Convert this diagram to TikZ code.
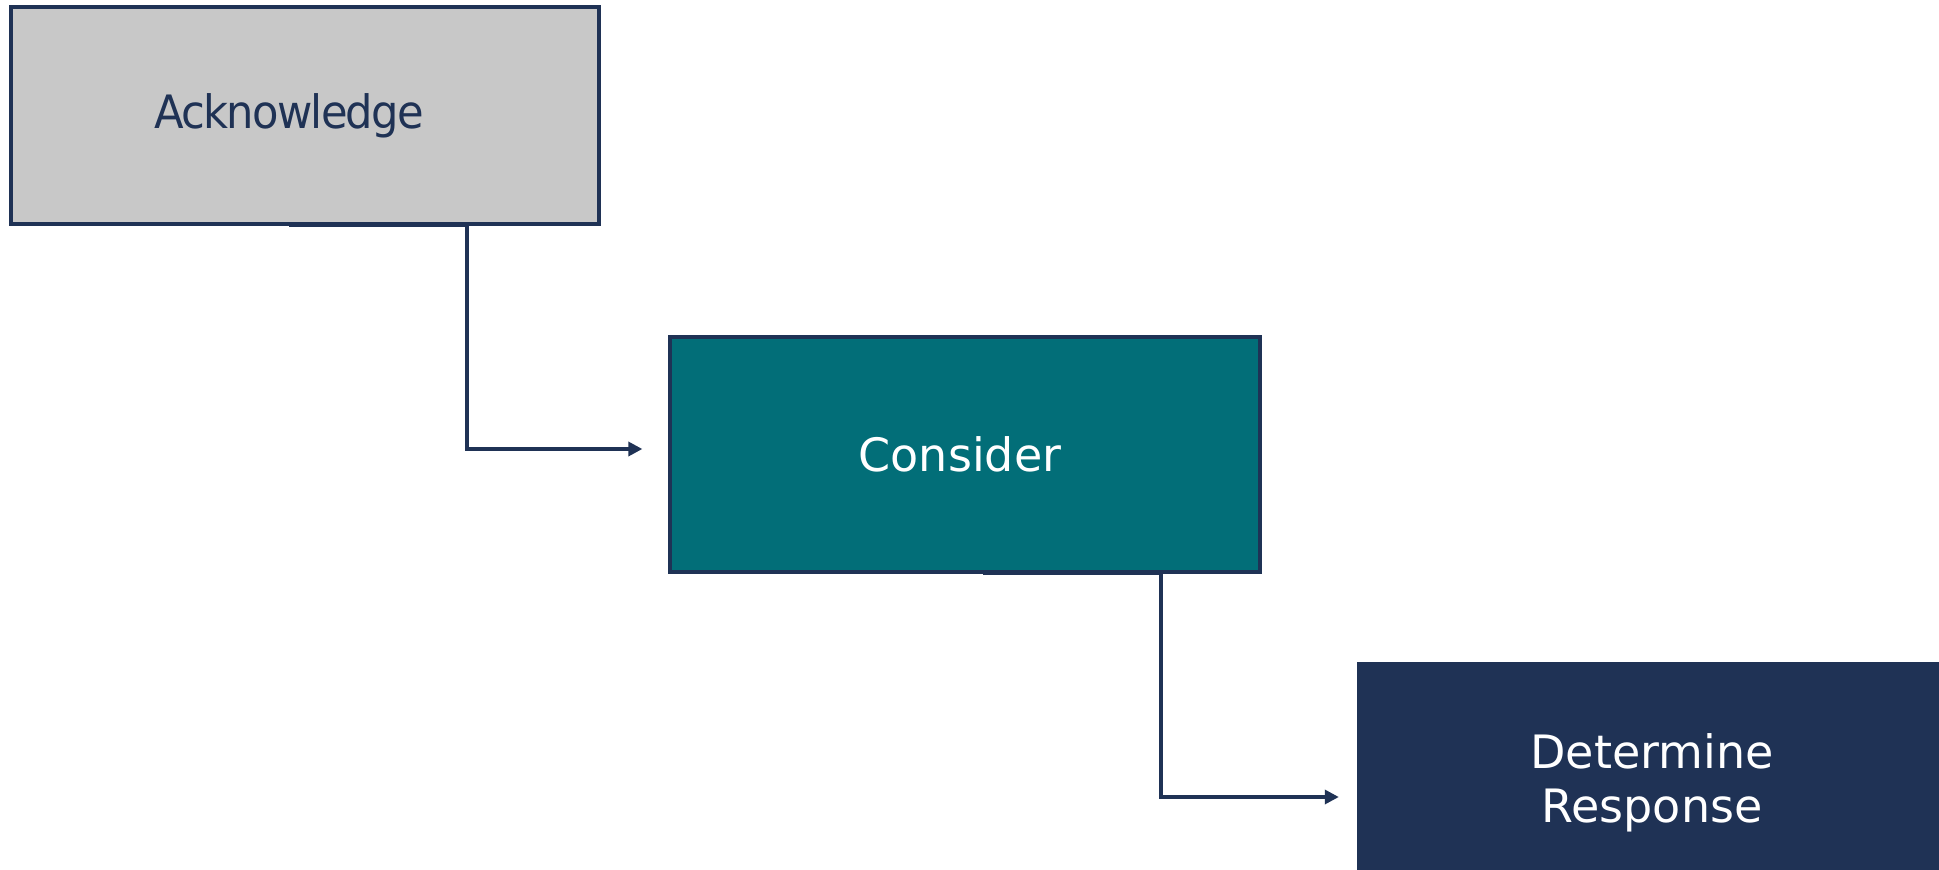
\documentclass[tikz,border=0pt]{standalone}
\usepackage{fontspec}
\setmainfont{DejaVu Sans}
\newfontfamily\narrowfont[FakeStretch=0.94,LetterSpace=-3.7]{DejaVu Sans}
\usetikzlibrary{arrows.meta}
\definecolor{navy}{HTML}{1F3255}
\definecolor{boxgray}{HTML}{C8C8C8}
\definecolor{teal2}{HTML}{026E78}
\tikzset{
  stagebox/.style={rectangle, minimum width=#1, inner sep=0pt},
  stagetext/.style={inner sep=0pt, align=center, font=\fontsize{46}{54}\selectfont},
  conn/.style={draw=navy, line width=3.3pt, line join=miter, -{Triangle[length=14pt,width=14pt]}}
}
\begin{document}
\begin{tikzpicture}[x=1pt,y=-1pt]
\useasboundingbox (0,0) rectangle (1939,870);
\fill[white] (0,0) rectangle (1939,870);
\node[stagebox=588pt, minimum height=217pt, fill=boxgray, draw=navy, line width=3.3pt] (a) at (305,115.5) {};
\node[stagebox=590pt, minimum height=235pt, fill=teal2, draw=navy, line width=3.3pt] (b) at (965,454.5) {};
\node[stagebox=590pt, minimum height=242pt, fill=navy] (c) at (1652,783) {};
\node[stagetext, text=navy] (ta) at ([xshift=-16pt]a.center) {\narrowfont Acknowledge};
\node[stagetext, text=white] (tb) at ([xshift=-5pt]b.center) {Consider};
\node[stagetext, text=white] (tc) at (c.center) {Determine\\Response};
\draw[conn, shorten >=26pt] ([xshift=-16pt]a.south) -- ++(178,0) |- ([yshift=5.5pt]b.west);
\draw[conn, shorten >=18pt] ([xshift=18pt]b.south) -- ++(178,0) |- ([yshift=-14pt]c.west);
\end{tikzpicture}
\end{document}
